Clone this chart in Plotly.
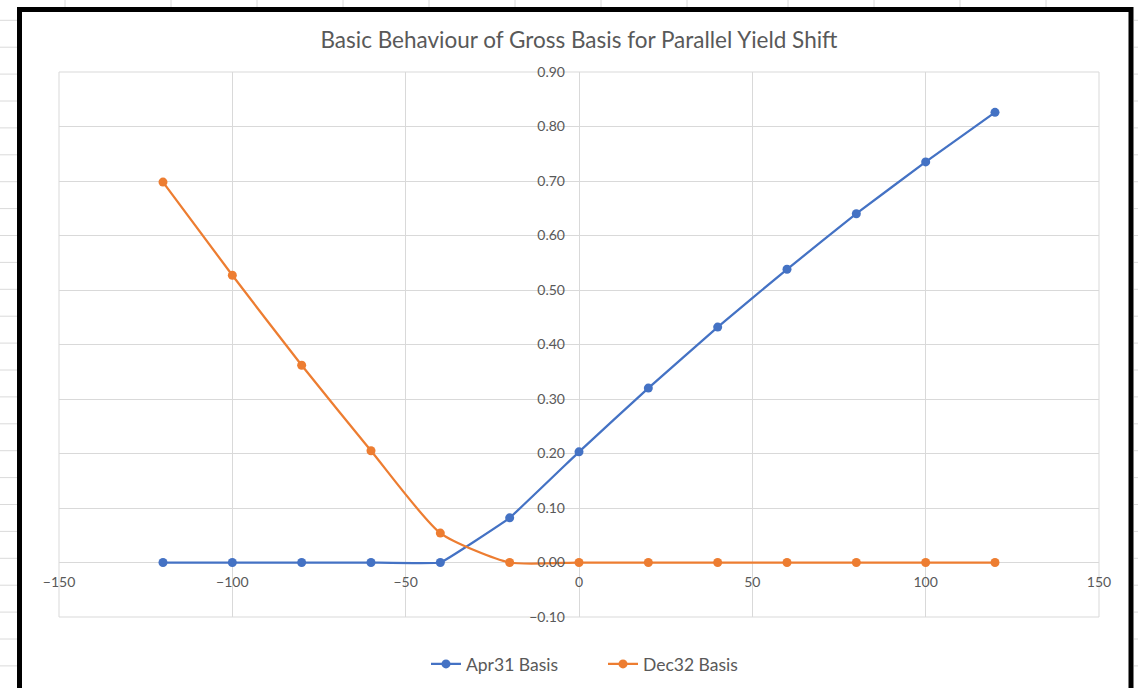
import plotly.graph_objects as go

# Parallel yield shift (bp) and resulting gross basis per contract
yield_shift = [-120, -100, -80, -60, -40, -20, 0, 20, 40, 60, 80, 100, 120]
apr31_basis = [0.0, 0.0, 0.0, 0.0, 0.0, 0.082, 0.203, 0.320, 0.432, 0.538, 0.640, 0.735, 0.826]
dec32_basis = [0.698, 0.527, 0.362, 0.205, 0.054, 0.0, 0.0, 0.0, 0.0, 0.0, 0.0, 0.0, 0.0]

x_ticks = [-150, -100, -50, 0, 50, 100, 150]
y_ticks = [-0.10, 0.00, 0.10, 0.20, 0.30, 0.40, 0.50, 0.60, 0.70, 0.80, 0.90]

W, H = 1138, 688
L, R, T, B = 59, 1099, 72, 617  # plot area edges in pixels

FONT = "Lato"
TXT = "#595959"
GRID = "#d9d9d9"


def px(x):
    return (x - L) / (R - L)


def py(y):
    return (B - y) / (B - T)


fig = go.Figure()
fig.add_trace(go.Scatter(
    x=yield_shift, y=apr31_basis, name="Apr31 Basis", mode="lines+markers",
    line=dict(color="#4472C4", width=2.25, shape="spline", smoothing=0.2),
    marker=dict(color="#4472C4", size=9),
))
fig.add_trace(go.Scatter(
    x=yield_shift, y=dec32_basis, name="Dec32 Basis", mode="lines+markers",
    line=dict(color="#ED7D31", width=2.25, shape="spline", smoothing=0.6),
    marker=dict(color="#ED7D31", size=9),
))

shapes = []
# worksheet cell lines around the chart object
for xv in [65, 171, 257, 343, 429, 515, 601, 687, 788, 874, 960, 1046]:
    shapes.append(dict(type="line", xref="paper", yref="paper", layer="below",
                       x0=px(xv), x1=px(xv), y0=py(0), y1=py(8),
                       line=dict(color="#dadada", width=1)))
for i in range(26):
    yv = 20.3 + 26.9 * i
    shapes.append(dict(type="line", xref="paper", yref="paper", layer="below",
                       x0=px(0), x1=px(17), y0=py(yv), y1=py(yv),
                       line=dict(color="#dadada", width=1)))
    shapes.append(dict(type="line", xref="paper", yref="paper", layer="below",
                       x0=px(1134), x1=px(1138), y0=py(yv), y1=py(yv),
                       line=dict(color="#dadada", width=1)))
# chart object frame
shapes.append(dict(type="rect", xref="paper", yref="paper", layer="above",
                   x0=px(19.5), x1=px(1131), y0=py(9.5), y1=py(720),
                   line=dict(color="black", width=5)))
# plot area outline
shapes.append(dict(type="rect", xref="paper", yref="paper", layer="below",
                   x0=0, x1=1, y0=0, y1=1, line=dict(color=GRID, width=1)))

fig.update_layout(
    width=W, height=H,
    margin=dict(l=L, r=W - R, t=T, b=H - B, autoexpand=False),
    paper_bgcolor="white", plot_bgcolor="rgba(0,0,0,0)",
    font=dict(family=FONT, color=TXT, size=14),
    title=dict(text="Basic Behaviour of Gross Basis for Parallel Yield Shift",
               x=0.5, xref="paper", xanchor="center",
               y=1 - 40 / H, yref="container", yanchor="middle",
               font=dict(family=FONT, size=22.5, color=TXT)),
    xaxis=dict(range=[-150, 150], tickvals=x_ticks, showgrid=True, gridcolor=GRID,
               gridwidth=1, zeroline=False, showline=False, ticks="",
               anchor="free", position=0.1, ticklabelstandoff=9, automargin=False,
               tickfont=dict(size=14, color=TXT, family=FONT)),
    yaxis=dict(range=[-0.1, 0.9], tickvals=y_ticks, tickformat=".2f", showgrid=True,
               gridcolor=GRID, gridwidth=1, zeroline=False, showline=False, ticks="",
               anchor="free", position=0.5, ticklabelstandoff=14, automargin=False,
               tickfont=dict(size=14, color=TXT, family=FONT)),
    legend=dict(orientation="h", x=px(426), xanchor="left",
                y=1 - 664 / H, yref="container", yanchor="middle",
                entrywidth=132, entrywidthmode="pixels",
                font=dict(size=17.5, color=TXT, family=FONT), bgcolor="rgba(0,0,0,0)"),
    shapes=shapes,
)

fig.write_html("out.html")
